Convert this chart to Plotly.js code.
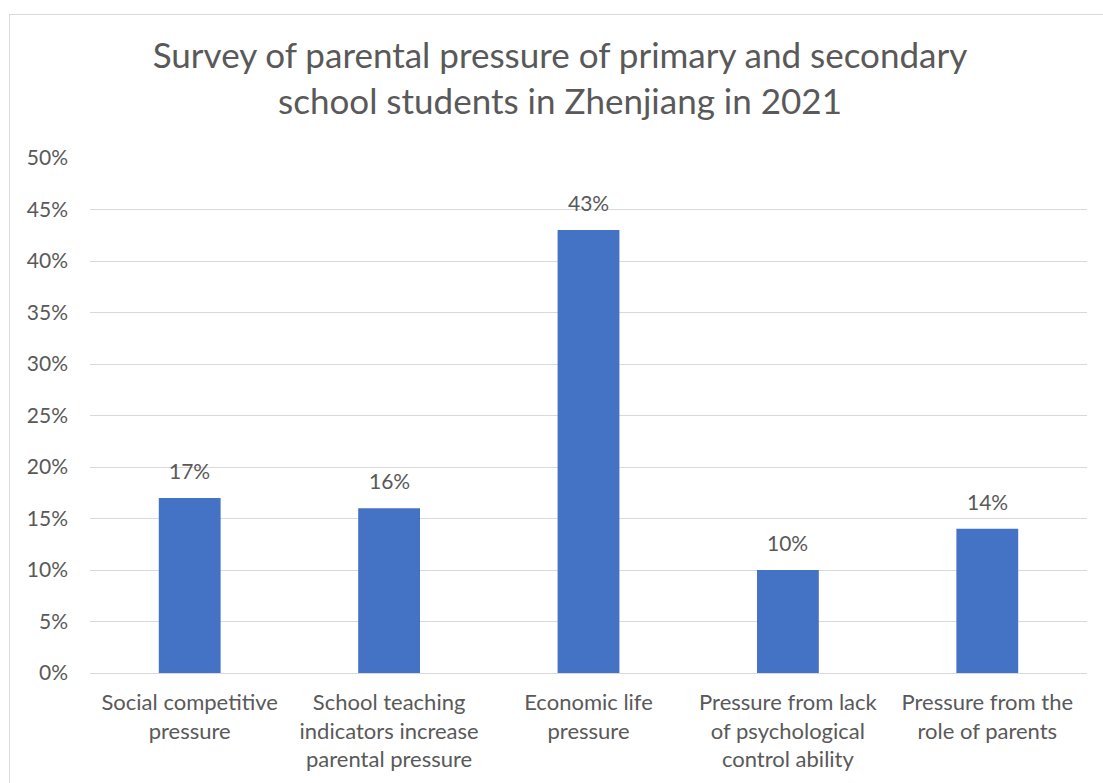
<!DOCTYPE html>
<html>
<head>
<meta charset="utf-8">
<script src="https://cdn.plot.ly/plotly-3.0.1.min.js"></script>
<style>
  html, body { margin: 0; padding: 0; background: #fff; }
  #chart { width: 1103px; height: 783px; }
  #frame { position: absolute; left: 9px; top: 14px; width: 1200px; height: 900px;
           border: 1.5px solid #d9d9d9; pointer-events: none; box-sizing: border-box; }
</style>
</head>
<body>
<div id="chart"></div>
<div id="frame"></div>
<script>
const categories = [
  "Social competitive<br>pressure",
  "School teaching<br>indicators increase<br>parental pressure",
  "Economic life<br>pressure",
  "Pressure from lack<br>of psychological<br>control ability",
  "Pressure from the<br>role of parents"
];
const values = [0.17, 0.16, 0.43, 0.10, 0.14];
const valueLabels = ["17%", "16%", "43%", "10%", "14%"];
const tickValues = [0, 0.05, 0.10, 0.15, 0.20, 0.25, 0.30, 0.35, 0.40, 0.45, 0.50];
const tickLabels = ["0%", "5%", "10%", "15%", "20%", "25%", "30%", "35%", "40%", "45%", "50%"];

const FONT = "Lato, 'Open Sans', sans-serif";
const GRAY = "#595959";

const trace = {
  type: "bar",
  x: categories,
  y: values,
  marker: { color: "#4472C4" },
  hoverinfo: "none"
};

const annotations = categories.map((c, i) => ({
  x: c, y: values[i], xref: "x", yref: "y",
  text: valueLabels[i], showarrow: false,
  yanchor: "bottom", yshift: 13,
  font: { family: FONT, size: 21, color: GRAY }
}));

const layout = {
  width: 1103, height: 783,
  margin: { l: 90, r: 16, t: 158, b: 110 },
  paper_bgcolor: "#ffffff",
  plot_bgcolor: "#ffffff",
  showlegend: false,
  bargap: 0.69,
  title: {
    text: "Survey of parental pressure of primary and secondary<br>school students in Zhenjiang in 2021",
    font: { family: FONT, size: 35, color: GRAY },
    x: 560 / 1103, xref: "container", xanchor: "center",
    y: 1 - 68 / 783, yref: "container", yanchor: "top"
  },
  xaxis: {
    type: "category",
    showgrid: false,
    showline: false,
    ticks: "",
    tickfont: { family: FONT, size: 22, color: GRAY },
    ticklabelstandoff: 14,
    fixedrange: true
  },
  yaxis: {
    range: [0, 0.5],
    tickvals: tickValues,
    ticktext: tickLabels,
    showgrid: true,
    gridcolor: "#d9d9d9",
    gridwidth: 1,
    zeroline: true,
    zerolinecolor: "#d9d9d9",
    zerolinewidth: 1,
    showline: false,
    ticks: "",
    tickfont: { family: FONT, size: 21, color: GRAY },
    ticklabelstandoff: 21,
    fixedrange: true
  },
  annotations: annotations
};

Plotly.newPlot("chart", [trace], layout, { displayModeBar: false, staticPlot: true });
</script>
</body>
</html>
